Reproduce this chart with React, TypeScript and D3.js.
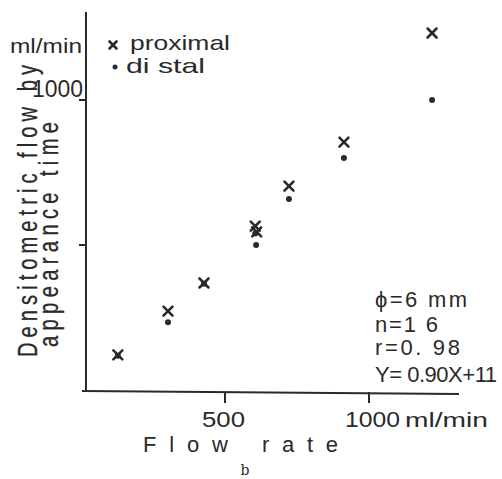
import React from "react";
import * as d3 from "d3";

const proximalX = [128, 302, 427, 605, 610, 722, 913, 1219];
const proximalY = [121, 272, 369, 565, 545, 703, 855, 1231];
const distalX = [128, 302, 427, 605, 608, 722, 913, 1219];
const distalY = [118, 234, 366, 540, 500, 659, 800, 1000];
const xTicks = [500, 1000];
const yTicks = [500, 1000];
const xTickLabels = ["500", "1000"];
const annotation = ["ϕ=6 mm", "n=1 6", "r=0. 98", "Y= 0.90X+11"];
const annotationWidths = [92, 63, 85, 122];

const font = "'Liberation Sans', Arial, sans-serif";
const ink = "#2a2a2a";

function T(props: { x: number; y: number; s: string; size: number; len?: number; anchor?: string; family?: string }) {
  const { x, y, s, size, len, anchor, family } = props;
  return (
    <text
      x={x}
      y={y}
      fontFamily={family || font}
      fontSize={size}
      fill={ink}
      textAnchor={anchor || "start"}
      textLength={len}
      lengthAdjust={len ? "spacingAndGlyphs" : undefined}
    >
      {s}
    </text>
  );
}

export default function App() {
  const W = 502, H = 479;
  const x = d3.scaleLinear().domain([0, 1000]).range([81, 369]);
  const y = d3.scaleLinear().domain([0, 1000]).range([390, 100]);
  const cross = (cx: number, cy: number, k: string, r = 4.5) => (
    <g key={k} stroke={ink} strokeWidth={2.6} strokeLinecap="round">
      <line x1={cx - r} y1={cy - r} x2={cx + r} y2={cy + r} />
      <line x1={cx - r} y1={cy + r} x2={cx + r} y2={cy - r} />
    </g>
  );
  const sx = 0.72;
  return (
    <svg width={W} height={H} style={{ position: "absolute", left: 0, top: 0, background: "#fff" }}>
      <rect width={W} height={H} fill="#fff" />
      {/* axes */}
      <line x1={86} y1={12} x2={86} y2={392} stroke={ink} strokeWidth={2} />
      <line x1={82} y1={391} x2={459} y2={394} stroke={ink} strokeWidth={2} />
      {yTicks.map((t) => (
        <line key={"yt" + t} x1={79} x2={86} y1={y(t)} y2={y(t)} stroke={ink} strokeWidth={2} />
      ))}
      {xTicks.map((t) => (
        <line key={"xt" + t} x1={x(t)} x2={x(t)} y1={392} y2={403} stroke={ink} strokeWidth={2} />
      ))}
      {/* tick labels */}
      <T x={32} y={97} s="1000" size={23} len={51} />
      <T x={10} y={53} s="ml/min" size={21} len={72} />
      <T x={202} y={427} s={xTickLabels[0]} size={22} len={43} />
      <T x={345} y={427} s={xTickLabels[1]} size={22} len={55} />
      <T x={405} y={427} s="ml/min" size={21} len={83} />
      {/* axis titles */}
      <text x={143} y={452} fontFamily={font} fontSize={22} fill={ink} textLength={85} lengthAdjust="spacing">Flow</text>
      <text x={262} y={452} fontFamily={font} fontSize={22} fill={ink} textLength={76} lengthAdjust="spacing">rate</text>
      <g transform={`translate(37,357) rotate(-90) scale(${sx},1)`}>
        <text x={0} y={0} fontFamily={font} fontSize={28} fill={ink} stroke={ink} strokeWidth={0.3} textLength={292 / sx} lengthAdjust="spacing">Densitometric flow by</text>
      </g>
      <g transform={`translate(58,347) rotate(-90) scale(${sx},1)`}>
        <text x={0} y={0} fontFamily={font} fontSize={28} fill={ink} stroke={ink} strokeWidth={0.3} textLength={225 / sx} lengthAdjust="spacing">appearance time</text>
      </g>
      {/* legend */}
      {cross(113, 45, "lg1", 3.5)}
      <T x={130} y={50} s="proximal" size={21} len={100} />
      <circle cx={115} cy={67} r={2.5} fill={ink} />
      <T x={126} y={73} s="di stal" size={21} len={79} />
      {/* points */}
      {distalX.map((v, i) => (
        <circle key={"d" + i} cx={x(v)} cy={y(distalY[i])} r={3} fill={ink} />
      ))}
      {proximalX.map((v, i) => cross(x(v), y(proximalY[i]), "p" + i))}
      {/* annotation */}
      {annotation.map((s, i) => (
        <text key={"a" + i} x={375} y={[307, 332, 355, 382][i]} fontFamily={font} fontSize={22} fill={ink} textLength={annotationWidths[i]} lengthAdjust="spacing">{s}</text>
      ))}
      <T x={245} y={475} s="b" size={14} anchor="middle" family="'DejaVu Serif', serif" />
    </svg>
  );
}
